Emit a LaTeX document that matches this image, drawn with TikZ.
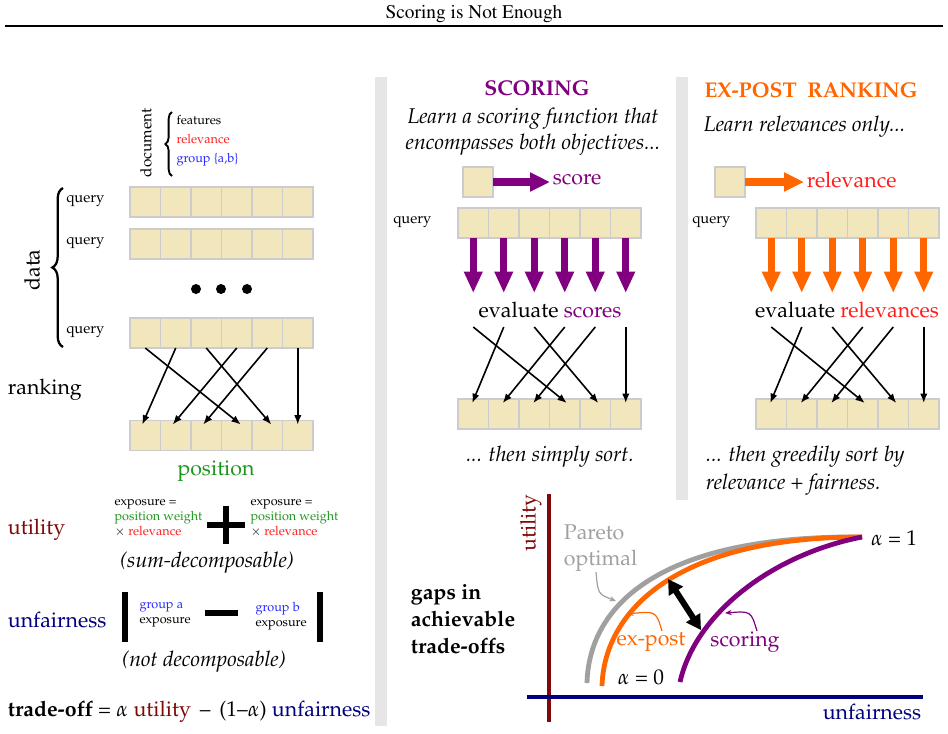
\documentclass[tikz,border=0pt]{standalone}
\usepackage[T1]{fontenc}
\usepackage{mathpazo}
\usepackage{xcolor}
\usetikzlibrary{arrows.meta, decorations.pathreplacing}

\definecolor{cellfill}{RGB}{242,230,188}
\definecolor{cellline}{RGB}{204,204,204}
\definecolor{panelgray}{RGB}{230,230,230}
\definecolor{utilred}{RGB}{128,10,10}
\definecolor{navy}{RGB}{0,0,128}
\definecolor{posgreen}{RGB}{30,150,30}
\definecolor{relred}{RGB}{255,30,30}
\definecolor{grpblue}{RGB}{40,40,255}
\definecolor{scorepurple}{RGB}{128,0,128}
\definecolor{expostorange}{RGB}{255,102,0}
\definecolor{paretogray}{RGB}{160,160,160}

\tikzset{
  big/.style={font=\fontsize{16}{20}\selectfont, inner sep=2pt},
  small/.style={font=\fontsize{9.5}{11.25}\selectfont, inner sep=1pt},
  querylabel/.style={font=\fontsize{11}{13}\selectfont, anchor=west, inner sep=0pt},
  cell/.style={draw=cellline, fill=cellfill, line width=0.9pt, minimum width=22.875pt,
    minimum height=22.5pt, inner sep=0pt, outer sep=0pt},
  bigbrace/.style={decorate, decoration={brace, amplitude=#1}, line width=1.7pt},
  rankarrow/.style={-{Latex[length=7pt,width=5.5pt]}, line width=1.2pt},
  fatarrow/.style={-{Triangle[length=16pt,width=13pt]}, line width=5pt},
  sidearrow/.style={-{Triangle[length=15pt,width=13.5pt]}, line width=5.5pt},
  curve/.style={line width=3.6pt},
  pointer/.style={-{Stealth[length=5pt,width=4pt]}, line width=0.9pt},
}

\begin{document}
\begin{tikzpicture}[x=0.75pt, y=-0.75pt]
\useasboundingbox (0,0) rectangle (948,733);
% title and rule
\node[font=\fontfamily{ptm}\fontsize{14.5}{16}\selectfont] at(474,14)(title){Scoring is Not Enough};
\draw[line width=1.1pt] (5,26) -- (943,26);
\fill[panelgray] (375,77) rectangle (387,726);
\fill[panelgray] (676,77) rectangle (688,500);

% left: data
\node[rotate=90, font=\fontsize{11.5}{13}\selectfont, inner sep=0pt] at(146,143)(doc){document};
\coordinate (docbot) at(172,176);
\coordinate (doctop) at(172,112);
\draw[bigbrace=5pt, line width=1.4pt] (docbot) -- (doctop);
\node[small, anchor=west, align=left, font=\fontsize{9.5}{14.25}\selectfont] at(175,141)(docattr){features\\
  \textcolor{relred}{relevance}\\ \textcolor{grpblue}{group \{a,b\}}};
\node[big, rotate=90] at(32,270)(data){data};
\coordinate (databot) at(63,347);
\coordinate (datatop) at(63,188);
\draw[bigbrace=8pt] (databot) -- (datatop);

\foreach \r/\x/\y in {q1/130/202, q2/130/244, q3/130/333, pos/130/435.5,
    sq/458/223, ss/458/414, eq/756/223, es/756/414}
  \foreach \i in {1,...,6}
    \node[cell] at({\x+(\i-0.5)*30.5},\y)(\r-\i){};

\node[querylabel] at(66,201)(ql1){query};
\node[querylabel] at(66,243)(ql2){query};
\node[querylabel] at(66,332)(ql3){query};
\foreach \i/\x in {1/196,2/221,3/247}
  \node[circle, fill, inner sep=0pt, minimum size=7.5pt] at(\x,289)(dot\i){};

% left: ranking
\node[big, anchor=west] at(5,390)(ranking){ranking};
\foreach \a/\b/\d in {1/4/4,2/1/-3,3/5/4,4/2/-3,5/3/-3,6/6/0}
  \draw[rankarrow] (q3-\a.south) -- ([xshift=\d*0.75pt, yshift=-3pt]pos-\b.north);
\node[big, text=posgreen] at(216,471)(position){position};

% left: utility
\node[big, anchor=west, text=utilred] at(5,530)(utility){utility};
\node[small, anchor=west, align=left] at(113,518)(expa){exposure =\\
  \textcolor{posgreen}{position weight}\\ $\times$ \textcolor{relred}{relevance}};
\draw[line width=4.5pt] (207,525) -- (245,525) (226,506) -- (226,544);
\node[small, anchor=west, align=left] at(249,518)(expb){exposure =\\
  \textcolor{posgreen}{position weight}\\ $\times$ \textcolor{relred}{relevance}};
\node[big, font=\fontsize{16}{20}\selectfont\itshape] at(207,563)(sumdec){(sum-decomposable)};

% left: unfairness
\node[big, anchor=west, text=navy] at(5,620)(unfair){unfairness};
\draw[line width=4.5pt] (125,592) -- (125,642) (320,592) -- (320,642);
\node[small, anchor=west, align=left] at(138,615)(grpa){\textcolor{grpblue}{group a}\\ exposure};
\draw[line width=4.5pt] (205,613) -- (238,613);
\node[small, anchor=west, align=left] at(254,616)(grpb){\textcolor{grpblue}{group b}\\ exposure};
\node[big, font=\fontsize{16}{20}\selectfont\itshape] at(204,662)(notdec){(not decomposable)};
\node[big, anchor=west] at(5,712)(tradeoff){\textbf{trade-off} = $\alpha$ \textcolor{utilred}{utility}
  \,--\, (1--$\alpha$) \textcolor{navy}{unfairness}};

% middle: scoring
\node[big, font=\fontsize{16}{20}\selectfont\bfseries, text=scorepurple] at(537,88)(scoring){SCORING};
\node[big, font=\fontsize{16}{19.5}\selectfont\itshape, align=center] at(533,132)(learnsc){Learn a scoring function that\\
  encompasses both objectives...};
\node[cell, minimum width=22.5pt] at(478,182)(sbox){};
\node[big, anchor=west, text=scorepurple] at(550,180)(score){score};
\draw[sidearrow, scorepurple] (sbox.east) -- (sbox.east -| score.west);
\node[querylabel] at(393,222)(ql4){query};
\foreach \i in {1,...,6} {
  \coordinate (sqtip-\i) at({458+(\i-0.5)*30.5},293);
  \coordinate (sqx-\i) at({458+(\i-0.5)*30.5},327);
  \draw[fatarrow, scorepurple] (sq-\i.south) -- (sqtip-\i);
}
\node[big] at(550,310)(evalsc){evaluate \textcolor{scorepurple}{scores}};
\foreach \a/\b/\d in {1/4/2,2/1/-1,3/5/3,4/2/-1,5/3/-1,6/6/0}
  \draw[rankarrow] (sqx-\a) -- ([xshift=\d*0.75pt, yshift=-3pt]ss-\b.north);
\node[big, font=\fontsize{16}{20}\selectfont\itshape] at(550,457)(simply){... then simply sort.};

% right: ex-post
\node[big, font=\fontsize{16}{20}\selectfont\bfseries, text=expostorange] at(811,90)(expost){EX-POST~ RANKING};
\node[big, font=\fontsize{16}{20}\selectfont\itshape, anchor=west] at(701,127)(learnrel){Learn relevances only...};
\node[cell, minimum width=22.5pt] at(730,182)(ebox){};
\node[big, anchor=west, text=relred] at(804,180)(relev){relevance};
\draw[sidearrow, expostorange] (ebox.east) -- (ebox.east -| relev.west);
\node[querylabel] at(692,222)(ql5){query};
\foreach \i in {1,...,6} {
  \coordinate (eqtip-\i) at({756+(\i-0.5)*30.5},293);
  \coordinate (eqx-\i) at({756+(\i-0.5)*30.5},327);
  \draw[fatarrow, expostorange] (eq-\i.south) -- (eqtip-\i);
}
\node[big] at(847,310)(evalrel){evaluate \textcolor{relred}{relevances}};
\foreach \a/\b/\d in {1/4/2,2/1/-1,3/5/3,4/2/-1,5/3/-1,6/6/0}
  \draw[rankarrow] (eqx-\a) -- ([xshift=\d*0.75pt, yshift=-3pt]es-\b.north);
\node[big, font=\fontsize{16}{21}\selectfont\itshape, anchor=west, align=left] at(703,471)(greedy){... then greedily sort by\\
  relevance \upshape+ \itshape fairness.};

% bottom right: trade-off plot
\node[big, font=\fontsize{16}{20}\selectfont\bfseries, anchor=west, align=left] at(408,619)(gaps){gaps in\\ achievable\\ trade-offs};
\draw[line width=3pt, utilred] (549,494) -- (549,722);
\draw[line width=3pt, navy] (527,697) -- (923,697);
\node[big, rotate=90, text=utilred, inner sep=0pt] at(531,523)(utilax){utility};
\node[big, text=navy] at(872,712)(unfairax){unfairness};
\coordinate (alphaone) at(862,537);
\draw[curve, paretogray] (587,683) .. controls (589,605) and (660,535) .. (alphaone);
\draw[curve, expostorange] (602,686) .. controls (604,615) and (670,537) .. (alphaone);
\draw[curve, scorepurple] (680,682) .. controls (695,615) and (770,555) .. (alphaone);
\node[big, text=paretogray, anchor=west, align=left] at(561,548)(pareto){Pareto\\ optimal};
\node[big, text=expostorange] at(651,642)(expostlab){ex-post};
\node[big, text=scorepurple] at(745,642)(scorelab){scoring};
\node[big] at(641,677)(alphazero){$\alpha$ = 0};
\node[big] at(894,538)(alphaonelab){$\alpha$ = 1};
\coordinate (pg) at(616,601);
\coordinate (po) at(627,614);
\coordinate (pp) at(725,613);
\draw[pointer, paretogray] (596,572) .. controls (598,594) .. (pg);
\draw[pointer, expostorange] (662,631) .. controls (656,611) .. (po);
\draw[pointer, scorepurple] (757,631) .. controls (751,611) .. (pp);
\coordinate (gaptop) at(668,579);
\coordinate (gapbot) at(701,630);
\draw[{Triangle[length=11pt,width=12pt]}-{Triangle[length=11pt,width=12pt]}, line width=4.5pt] (gaptop) -- (gapbot);
\end{tikzpicture}
\end{document}
